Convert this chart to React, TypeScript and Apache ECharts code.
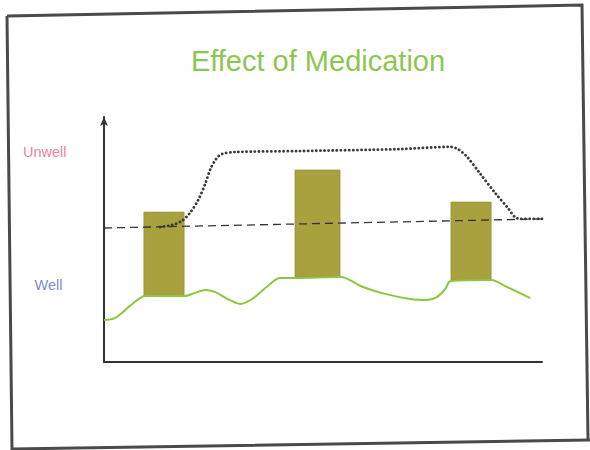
import React, { useEffect, useRef } from "react";
import * as echarts from "echarts";

// Time (0–100) vs. illness level (0 = well, 100 = very unwell)
const wellnessLine: [number, number][] = [
  [0, 17.1], [2.5, 18.0], [5.9, 22.9], [8.2, 26.1], [9.4, 26.9], [18.3, 26.9],
  [20.8, 28.2], [23.1, 29.4], [25.3, 28.6], [28.3, 25.7], [31.1, 23.7], [33.8, 25.7],
  [37.4, 31.0], [40.2, 34.3], [43.6, 34.3], [53.9, 34.7], [59.1, 30.6], [64.2, 27.8],
  [69.9, 25.7], [73.7, 25.3], [76.0, 26.5], [77.9, 29.8], [79.2, 33.1], [88.4, 33.5],
  [91.6, 31.0], [97.3, 26.1],
];

const thresholdLine: [number, number][] = [
  [0, 54.7], [100, 58.4],
];

const medicationEffect: [number, number][] = [
  [12.8, 55.1], [15.5, 55.9], [17.8, 57.6], [19.6, 60.8], [21.5, 66.1], [23.1, 72.7],
  [24.4, 79.2], [25.6, 82.9], [26.9, 84.9], [29.9, 85.7], [44.7, 86.1], [67.6, 86.9],
  [79.0, 87.8], [80.8, 86.9], [82.9, 83.7], [85.8, 77.1], [89.3, 69.0], [92.2, 62.9],
  [93.8, 59.2], [95.0, 58.4], [100, 58.4],
];

// [xStart, xEnd, bottom, top]
const episodes: [number, number, number, number][] = [
  [9.1, 18.3, 26.9, 61.2],
  [43.6, 53.9, 34.7, 78.4],
  [79.2, 88.4, 33.5, 65.3],
];

const levelLabels = ["Unwell", "Well"];
const levelValues = [85.7, 31.4];

export default function App() {
  const ref = useRef<HTMLDivElement>(null);
  useEffect(() => {
    if (!ref.current) return;
    const chart = echarts.init(ref.current, null, { renderer: "svg" });
    chart.setOption({
      animation: false,
      backgroundColor: "#ffffff",
      title: {
        text: "Effect of Medication",
        left: 313,
        top: 41,
        textAlign: "center",
        textStyle: {
          fontFamily: "Liberation Sans, Arial, sans-serif",
          fontSize: 29,
          fontWeight: "normal",
          color: "#8cc652",
        },
      },
      grid: { left: 104, right: 48, top: 117, bottom: 88 },
      xAxis: {
        type: "value",
        min: 0,
        max: 100,
        axisLine: { show: true, lineStyle: { color: "#333", width: 2 } },
        axisTick: { show: false },
        axisLabel: { show: false },
        splitLine: { show: false },
      },
      yAxis: {
        type: "value",
        min: 0,
        max: 100,
        axisLine: {
          show: true,
          symbol: ["none", "arrow"],
          symbolSize: [6, 9],
          lineStyle: { color: "#333", width: 2 },
        },
        axisTick: { show: false },
        axisLabel: { show: false },
        splitLine: { show: false },
      },
      series: [
        {
          type: "custom",
          data: episodes,
          renderItem: (params: any, api: any) => {
            const p0 = api.coord([api.value(0), api.value(3)]);
            const p1 = api.coord([api.value(1), api.value(2)]);
            return {
              type: "rect",
              shape: { x: p0[0], y: p0[1], width: p1[0] - p0[0], height: p1[1] - p0[1] },
              style: { fill: "#a9a13e", stroke: "#8f8a3a", lineWidth: 0.6 },
            };
          },
          z: 2,
        },
        {
          type: "line",
          data: thresholdLine,
          symbol: "none",
          lineStyle: { color: "#333", width: 1.3, type: [8, 5] },
          z: 3,
        },
        {
          type: "line",
          data: medicationEffect,
          symbol: "none",
          smooth: 0.3,
          lineStyle: { color: "#3a3a3a", width: 2.8, type: [0.1, 4], cap: "round" },
          z: 4,
        },
        {
          type: "line",
          data: wellnessLine,
          symbol: "none",
          smooth: 0.35,
          lineStyle: { color: "#8dc63f", width: 2 },
          z: 5,
        },
        {
          type: "scatter",
          clip: false,
          data: levelValues.map((v, i) => ({
            value: [0, v],
            label: {
              show: true,
              formatter: levelLabels[i],
              position: "left",
              distance: i === 0 ? 37 : 41,
              fontFamily: "Liberation Sans, Arial, sans-serif",
              fontSize: 14.5,
              color: i === 0 ? "#f0607e" : "#5669c2",
            },
          })),
          symbolSize: 1,
          itemStyle: { color: "transparent" },
          z: 6,
        },
      ],
      graphic: [
        {
          type: "polyline",
          shape: { points: [[7, 16], [582, 5], [588, 440]] },
          style: { stroke: "#4a4a4a", lineWidth: 3, fill: "none" },
        },
        {
          type: "polyline",
          shape: { points: [[7, 16], [12, 449], [590, 440]] },
          style: { stroke: "#4a4a4a", lineWidth: 3, fill: "none" },
        },
      ],
    });
    return () => chart.dispose();
  }, []);
  return (
    <div
      ref={ref}
      style={{ position: "fixed", left: 0, top: 0, width: 590, height: 450 }}
    />
  );
}
